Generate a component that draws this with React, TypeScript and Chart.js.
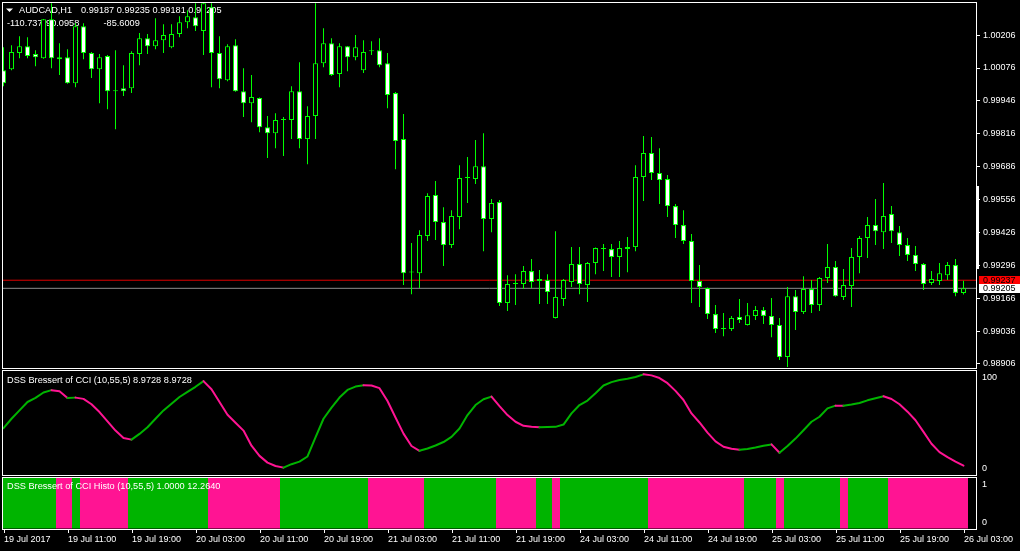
import React, { useEffect, useRef } from 'react';
import { Chart, registerables } from 'chart.js';

Chart.register(...registerables);

// ---------------- data ----------------
const SYMBOL = 'AUDCAD,H1';

const OPEN = [
  1.00067, 1.00071, 1.00135, 1.00162, 1.00131, 1.00115, 1.00269, 1.00111, 1.00119, 1.00016,
  1.00241, 1.00135, 1.00071, 1.00123, 0.99984, 0.99996, 0.99996, 1.00131, 1.00194, 1.00162,
  1.00186, 1.00158, 1.0021, 1.00257, 1.00277, 1.00222, 1.00316, 1.00135, 1.00028, 1.00166,
  0.99984, 0.99937, 0.99957, 0.99842, 0.99818, 0.9987, 0.9987, 0.99984, 0.99795, 0.99886,
  1.00095, 1.00174, 1.00052, 1.00162, 1.00119, 1.00067, 1.00142, 1.00146, 1.00095, 0.99977,
  0.99795, 0.99269, 0.99265, 0.99412, 0.99574, 0.99467, 0.99376, 0.99487, 0.99641, 0.99637,
  0.99688, 0.99479, 0.99546, 0.99147, 0.99222, 0.99222, 0.99273, 0.99242, 0.99238, 0.99088,
  0.99163, 0.9923, 0.99301, 0.99218, 0.99305, 0.9936, 0.9936, 0.99329, 0.9936, 0.99368,
  0.99645, 0.9974, 0.99661, 0.99637, 0.9953, 0.99455, 0.99392, 0.99234, 0.99206, 0.99103,
  0.99044, 0.99044, 0.99092, 0.9906, 0.99096, 0.99119, 0.99096, 0.9906, 0.98933, 0.99174,
  0.99111, 0.99202, 0.99139, 0.99246, 0.99289, 0.99171, 0.99214, 0.99329, 0.99404, 0.99455,
  0.99427, 0.99499, 0.99427, 0.99376, 0.99337, 0.99301, 0.99226, 0.99234, 0.99257, 0.99297,
  0.99187,
];

const HIGH = [
  1.00158, 1.00166, 1.00202, 1.00198, 1.00146, 1.0027, 1.00332, 1.00174, 1.0015, 1.00253,
  1.00253, 1.00139, 1.00131, 1.00127, 1.00146, 1.00087, 1.00142, 1.00214, 1.0021, 1.00273,
  1.00249, 1.00249, 1.00281, 1.00304, 1.00332, 1.00336, 1.00332, 1.00202, 1.0017, 1.0019,
  1.00075, 1.00048, 0.99959, 0.99886, 0.99897, 0.99882, 1.00004, 1.00099, 0.99925, 1.00332,
  1.00233, 1.00194, 1.00174, 1.00163, 1.00206, 1.00186, 1.00182, 1.00194, 1.00135, 0.99981,
  0.99894, 0.99384, 0.99435, 0.99581, 0.99629, 0.99526, 0.99514, 0.99692, 0.99724, 0.99791,
  0.99818, 0.99558, 0.99554, 0.99257, 0.99261, 0.99293, 0.99321, 0.99277, 0.99261, 0.99431,
  0.99242, 0.99368, 0.99368, 0.99309, 0.99366, 0.9938, 0.9938, 0.99392, 0.99408, 0.99692,
  0.99807, 0.99803, 0.99759, 0.99653, 0.99538, 0.99514, 0.9942, 0.99297, 0.99208, 0.99139,
  0.99107, 0.99096, 0.99163, 0.99147, 0.99135, 0.99131, 0.99167, 0.99088, 0.9921, 0.99198,
  0.99253, 0.99238, 0.9925, 0.9938, 0.99313, 0.99281, 0.99364, 0.99412, 0.99487, 0.99558,
  0.99621, 0.9953, 0.99451, 0.99404, 0.99372, 0.99305, 0.99273, 0.99305, 0.99309, 0.99321,
  0.99235,
];

const LOW = [
  1.00004, 1.00067, 1.00115, 1.00115, 1.00083, 1.00113, 1.00075, 1.00048, 1.00014, 1.0,
  1.00111, 1.00036, 0.99937, 0.99913, 0.99834, 0.99965, 0.99977, 1.00087, 1.00131, 1.0015,
  1.00135, 1.00154, 1.00198, 1.00233, 1.00222, 1.00127, 1.0, 0.99996, 1.00024, 0.99982,
  0.99882, 0.99862, 0.99822, 0.9972, 0.99759, 0.99728, 0.99795, 0.99759, 0.99696, 0.99795,
  1.00079, 1.00044, 1.0, 1.00063, 1.00107, 1.00056, 1.00127, 1.00079, 0.99917, 0.99676,
  0.99218, 0.99182, 0.99206, 0.99392, 0.99396, 0.99293, 0.99364, 0.99439, 0.99542, 0.99617,
  0.99352, 0.99427, 0.99135, 0.99115, 0.99139, 0.99202, 0.99206, 0.99143, 0.99143, 0.99086,
  0.99135, 0.9921, 0.99182, 0.99151, 0.99261, 0.99273, 0.9925, 0.9925, 0.99269, 0.99352,
  0.9955, 0.99633, 0.99538, 0.99487, 0.99404, 0.9938, 0.99147, 0.99131, 0.99084, 0.99028,
  0.99016, 0.99036, 0.99068, 0.99058, 0.9908, 0.99064, 0.99012, 0.98922, 0.98894, 0.9904,
  0.99103, 0.99107, 0.99115, 0.99226, 0.99172, 0.99159, 0.99131, 0.99265, 0.99325, 0.99376,
  0.9936, 0.99384, 0.99333, 0.99313, 0.99273, 0.99198, 0.99218, 0.99218, 0.99238, 0.99174,
  0.99181,
];

const CLOSE = [
  1.00016, 1.00139, 1.00162, 1.00123, 1.00119, 1.00269, 1.00115, 1.00119, 1.00016, 1.00241,
  1.00135, 1.00071, 1.00119, 0.99984, 0.99985, 0.99984, 1.00135, 1.00194, 1.00162, 1.00186,
  1.00206, 1.0021, 1.00257, 1.00281, 1.00241, 1.00332, 1.00135, 1.00032, 1.00162, 0.99984,
  0.99937, 0.99961, 0.99842, 0.99818, 0.9987, 0.99871, 0.99984, 0.99795, 0.99886, 1.00095,
  1.00174, 1.00048, 1.00162, 1.00119, 1.00158, 1.00139, 1.00143, 1.00087, 0.99969, 0.99787,
  0.99265, 0.99268, 0.99416, 0.9957, 0.99467, 0.99376, 0.99491, 0.99641, 0.99642, 0.99688,
  0.99479, 0.99542, 0.99147, 0.99222, 0.99226, 0.99273, 0.9923, 0.99234, 0.9919, 0.99171,
  0.99238, 0.99301, 0.99222, 0.99305, 0.99364, 0.99361, 0.99329, 0.99364, 0.99368, 0.99645,
  0.9974, 0.99661, 0.99633, 0.9953, 0.99455, 0.99392, 0.99234, 0.9921, 0.99103, 0.99044,
  0.99045, 0.99088, 0.9908, 0.99099, 0.99119, 0.99096, 0.9906, 0.98933, 0.99174, 0.99111,
  0.99202, 0.99139, 0.99246, 0.99289, 0.99174, 0.99218, 0.99329, 0.99404, 0.99455, 0.99431,
  0.99491, 0.99431, 0.99376, 0.99337, 0.99301, 0.99222, 0.99242, 0.99265, 0.99297, 0.99187,
  0.99205,
];

const DSS = [
  45.0, 54.1, 62.1, 70.2, 74.1, 79.3, 81.6, 80.5, 74.0, 74.4,
  73.2, 68.0, 60.5, 51.5, 42.7, 35.6, 34.0, 39.5, 45.9, 54.1,
  62.1, 68.6, 75.0, 79.9, 84.8, 90.3, 82.5, 70.2, 58.0, 50.2,
  42.7, 28.2, 18.4, 11.9, 8.7, 7.1, 10.4, 12.9, 17.8, 36.2,
  54.1, 64.8, 74.5, 81.8, 85.0, 86.3, 86.0, 83.5, 71.2, 55.3,
  39.8, 27.9, 23.3, 25.5, 28.4, 31.7, 36.6, 44.7, 57.6, 67.3,
  72.8, 75.4, 66.3, 57.6, 51.2, 47.3, 46.3, 46.0, 46.1, 46.3,
  48.5, 59.2, 67.3, 71.6, 78.6, 86.1, 89.3, 91.3, 92.5, 94.2,
  96.8, 95.8, 93.2, 88.3, 80.9, 72.1, 59.2, 50.5, 40.8, 32.3,
  27.2, 25.2, 24.3, 25.0, 26.5, 28.2, 29.4, 21.4, 27.9, 35.0,
  43.0, 51.2, 56.0, 64.1, 66.7, 66.6, 67.7, 69.2, 71.8, 73.8,
  75.7, 73.1, 68.0, 60.9, 52.7, 41.5, 30.1, 22.0, 17.2, 12.9,
  8.9728,
];

// 1 = rising (green), 0 = falling (pink)
const HISTO_UP = [
  1, 1, 1, 1, 1, 1, 1, 0, 0, 1,
  0, 0, 0, 0, 0, 0, 1, 1, 1, 1,
  1, 1, 1, 1, 1, 1, 0, 0, 0, 0,
  0, 0, 0, 0, 0, 1, 1, 1, 1, 1,
  1, 1, 1, 1, 1, 1, 0, 0, 0, 0,
  0, 0, 0, 1, 1, 1, 1, 1, 1, 1,
  1, 1, 0, 0, 0, 0, 0, 1, 1, 0,
  1, 1, 1, 1, 1, 1, 1, 1, 1, 1,
  1, 0, 0, 0, 0, 0, 0, 0, 0, 0,
  0, 0, 0, 1, 1, 1, 1, 0, 1, 1,
  1, 1, 1, 1, 1, 0, 1, 1, 1, 1,
  1, 0, 0, 0, 0, 0, 0, 0, 0, 0,
  0,
];

const TIME_LABELS = [
  '19 Jul 2017', '19 Jul 11:00', '19 Jul 19:00', '20 Jul 03:00', '20 Jul 11:00', '20 Jul 19:00',
  '21 Jul 03:00', '21 Jul 11:00', '21 Jul 19:00', '24 Jul 03:00', '24 Jul 11:00', '24 Jul 19:00',
  '25 Jul 03:00', '25 Jul 11:00', '25 Jul 19:00', '26 Jul 03:00',
];
const LABEL_STEP = 8;

const PRICE_TICKS = [0.98906, 0.99036, 0.99166, 0.99296, 0.99426, 0.99556, 0.99686, 0.99816, 0.99946, 1.00076, 1.00206];
const PRICE_MIN = 0.9889;
const PRICE_MAX = 1.00333;
const ASK = 0.99237;
const BID = 0.99205;
const SIDE_MARKER = [0.9928, 0.9961];

const HEADER_VALUES = ['-110.737', '-90.0958', '-85.6009'];
const DSS_TITLE = 'DSS Bressert of CCI (10,55,5) 8.9728 8.9728';
const HISTO_TITLE = 'DSS Bressert of CCI Histo (10,55,5) 1.0000 12.2640';
const DSS_LEVELS = [0, 100];
const HISTO_LEVELS = [0, 1];

// ---------------- styles ----------------
const FONT_FAMILY = "'Liberation Sans', Arial, sans-serif";
const CANDLE_GREEN = '#00FF00';
const UP_COLOR = '#00B400';
const DOWN_COLOR = '#FF1493';
const X_MIN = -0.0625;
const X_MAX = 121.5625;
const X_MIN_H = -0.125;
const X_MAX_H = 121.5;

Chart.defaults.font.family = FONT_FAMILY;
Chart.defaults.font.size = 9;

const framePlugin = {
  id: 'frame',
  afterDraw(chart: any) {
    const { ctx, chartArea: a } = chart;
    ctx.save();
    ctx.strokeStyle = '#FFFFFF';
    ctx.lineWidth = 1;
    ctx.strokeRect(a.left - 0.5, a.top - 0.5, a.right - a.left + 1, a.bottom - a.top + 1);
    ctx.restore();
  },
};

function textPlugin(id: string, hook: string, items: { text: string; x: number; y: number }[], triangle = false) {
  return {
    id,
    [hook](chart: any) {
      const ctx = chart.ctx;
      ctx.save();
      ctx.fillStyle = '#FFFFFF';
      if (triangle) {
        ctx.beginPath();
        ctx.moveTo(6, 8.5);
        ctx.lineTo(13, 8.5);
        ctx.lineTo(9.5, 12);
        ctx.closePath();
        ctx.fill();
      }
      ctx.font = `9.2px ${FONT_FAMILY}`;
      ctx.textBaseline = 'middle';
      ctx.textAlign = 'left';
      items.forEach((t) => ctx.fillText(t.text, t.x, t.y));
      ctx.restore();
    },
  };
}

const priceTagPlugin = {
  id: 'priceTags',
  afterDraw(chart: any) {
    const { ctx, chartArea: a } = chart;
    const y = chart.scales.y;
    ctx.save();
    const t = Math.round(y.getPixelForValue(SIDE_MARKER[1]));
    const b = Math.round(y.getPixelForValue(SIDE_MARKER[0]));
    ctx.fillStyle = '#FFFFFF';
    ctx.fillRect(a.right + 1, t, 2, b - t);
    const tag = (value: number, bg: string) => {
      const py = Math.round(y.getPixelForValue(value));
      ctx.fillStyle = bg;
      ctx.fillRect(a.right + 3, py - 4, chart.width - a.right - 3, 9);
      ctx.fillStyle = '#000000';
      ctx.font = `9px ${FONT_FAMILY}`;
      ctx.textBaseline = 'middle';
      ctx.fillText(value.toFixed(5), a.right + 7, py + 0.5);
    };
    tag(ASK, '#FF0000');
    tag(BID, '#FFFFFF');
    ctx.restore();
  },
};

const fixRightAxis = (s: any) => {
  s.width = 44;
  s.paddingTop = 0;
  s.paddingBottom = 0;
  s.paddingLeft = 0;
  s.paddingRight = 0;
};

const baseOptions = {
  animation: false as const,
  responsive: false,
  maintainAspectRatio: false,
  devicePixelRatio: 1,
  events: [] as any[],
  plugins: { legend: { display: false }, tooltip: { enabled: false } },
};

function mainConfig(): any {
  const idx = OPEN.map((_, i) => i);
  return {
    type: 'bar',
    data: {
      datasets: [
        {
          type: 'line',
          data: [{ x: X_MIN, y: ASK }, { x: X_MAX, y: ASK }],
          borderColor: '#E00000',
          borderWidth: 1,
          pointRadius: 0,
          order: 3,
        },
        {
          type: 'line',
          data: [{ x: X_MIN, y: BID }, { x: X_MAX, y: BID }],
          borderColor: '#8C8C8C',
          borderWidth: 1,
          pointRadius: 0,
          order: 3,
        },
        {
          data: idx.map((i) => ({ x: i, y: [LOW[i], HIGH[i]] })),
          backgroundColor: CANDLE_GREEN,
          borderWidth: 0,
          barThickness: 1,
          grouped: false,
          inflateAmount: 0,
          order: 2,
        },
        {
          data: idx.map((i) => ({ x: i, y: [OPEN[i], CLOSE[i]] })),
          backgroundColor: (c: any) => (CLOSE[c.dataIndex] < OPEN[c.dataIndex] ? '#FFFFFF' : '#000000'),
          borderColor: CANDLE_GREEN,
          borderWidth: 1,
          borderSkipped: false,
          barThickness: 5,
          minBarLength: 1,
          grouped: false,
          inflateAmount: 0,
          order: 1,
        },
      ],
    },
    options: {
      ...baseOptions,
      layout: { padding: { left: 3, top: 3, right: 0, bottom: 1 } },
      scales: {
        x: { type: 'linear', min: X_MIN, max: X_MAX, offset: false, grid: { offset: false }, display: false },
        y: {
          type: 'linear',
          position: 'right',
          min: PRICE_MIN,
          max: PRICE_MAX,
          afterBuildTicks: (s: any) => {
            s.ticks = PRICE_TICKS.map((v) => ({ value: v }));
          },
          afterFit: fixRightAxis,
          ticks: {
            color: '#FFFFFF',
            padding: 3,
            autoSkip: false,
            font: { size: 9 },
            callback: (v: any) => Number(v).toFixed(5),
          },
          grid: { drawOnChartArea: false, drawTicks: true, tickLength: 4, color: '#FFFFFF' },
          border: { display: false },
        },
      },
    },
    plugins: [
      textPlugin(
        'mainHeader',
        'beforeDatasetsDraw',
        [
          { text: SYMBOL, x: 19, y: 10.5 },
          {
            text: [OPEN[120], HIGH[120], LOW[120], CLOSE[120]].map((v) => v.toFixed(5)).join(' '),
            x: 81,
            y: 10.5,
          },
          { text: HEADER_VALUES[0], x: 7, y: 23.5 },
          { text: HEADER_VALUES[1], x: 43, y: 23.5 },
          { text: HEADER_VALUES[2], x: 103.5, y: 23.5 },
        ],
        true
      ),
      priceTagPlugin,
      framePlugin,
    ],
  };
}

function dssConfig(): any {
  return {
    type: 'line',
    data: {
      datasets: [
        {
          data: DSS.map((v, i) => ({ x: i, y: v })),
          borderColor: UP_COLOR,
          borderWidth: 2,
          pointRadius: 0,
          tension: 0,
          borderCapStyle: 'round',
          borderJoinStyle: 'round',
          segment: {
            borderColor: (c: any) => (c.p1.parsed.y >= c.p0.parsed.y ? UP_COLOR : DOWN_COLOR),
          },
        },
      ],
    },
    options: {
      ...baseOptions,
      layout: { padding: { left: 3, top: 2, right: 0, bottom: 2 } },
      scales: {
        x: { type: 'linear', min: X_MIN, max: X_MAX, offset: false, display: false },
        y: {
          type: 'linear',
          position: 'right',
          min: 0,
          max: 100,
          afterBuildTicks: (s: any) => {
            s.ticks = DSS_LEVELS.map((v) => ({ value: v }));
          },
          afterFit: fixRightAxis,
          ticks: {
            color: '#FFFFFF',
            padding: 6,
            autoSkip: false,
            font: { size: 9, lineHeight: '13px' },
            callback: (v: any) => (v === 100 ? ['', '100'] : ['0', '']),
          },
          grid: { drawOnChartArea: false, drawTicks: false },
          border: { display: false },
        },
      },
    },
    plugins: [textPlugin('dssHeader', 'afterDatasetsDraw', [{ text: DSS_TITLE, x: 7, y: 11 }]), framePlugin],
  };
}

function histoConfig(): any {
  return {
    type: 'bar',
    data: {
      datasets: [
        {
          data: HISTO_UP.map((_, i) => ({ x: i, y: [0, 1] })),
          backgroundColor: (c: any) => (HISTO_UP[c.dataIndex] ? UP_COLOR : DOWN_COLOR),
          borderWidth: 0,
          barThickness: 8,
          inflateAmount: 0,
        },
      ],
    },
    options: {
      ...baseOptions,
      layout: { padding: { left: 3, top: 2, right: 0, bottom: 0 } },
      scales: {
        x: {
          type: 'linear',
          position: 'bottom',
          min: X_MIN_H,
          max: X_MAX_H,
          offset: false,
          afterBuildTicks: (s: any) => {
            s.ticks = TIME_LABELS.map((_, k) => ({ value: k * LABEL_STEP }));
          },
          afterFit: (s: any) => {
            s.height = 22;
            s.paddingLeft = 0;
            s.paddingRight = 0;
          },
          ticks: {
            color: '#FFFFFF',
            align: 'start',
            padding: 1,
            autoSkip: false,
            maxRotation: 0,
            minRotation: 0,
            font: { size: 9 },
            callback: (v: any) => TIME_LABELS[Math.round(Number(v) / LABEL_STEP)] ?? '',
          },
          grid: { offset: false, drawOnChartArea: false, drawTicks: true, tickLength: 4, color: '#FFFFFF' },
          border: { display: false },
        },
        y: {
          type: 'linear',
          position: 'right',
          min: 0,
          max: 1,
          afterBuildTicks: (s: any) => {
            s.ticks = HISTO_LEVELS.map((v) => ({ value: v }));
          },
          afterFit: fixRightAxis,
          ticks: {
            color: '#FFFFFF',
            padding: 6,
            autoSkip: false,
            font: { size: 9, lineHeight: '13px' },
            callback: (v: any) => (v === 1 ? ['', '1'] : ['0', '']),
          },
          grid: { drawOnChartArea: false, drawTicks: false },
          border: { display: false },
        },
      },
    },
    plugins: [textPlugin('histoHeader', 'afterDatasetsDraw', [{ text: HISTO_TITLE, x: 7, y: 10 }]), framePlugin],
  };
}

export default function App() {
  const mainRef = useRef<HTMLCanvasElement>(null);
  const dssRef = useRef<HTMLCanvasElement>(null);
  const histRef = useRef<HTMLCanvasElement>(null);

  useEffect(() => {
    const charts = [
      new Chart(mainRef.current as HTMLCanvasElement, mainConfig()),
      new Chart(dssRef.current as HTMLCanvasElement, dssConfig()),
      new Chart(histRef.current as HTMLCanvasElement, histoConfig()),
    ];
    return () => charts.forEach((c) => c.destroy());
  }, []);

  return (
    <div
      style={{
        position: 'fixed',
        left: 0,
        top: 0,
        width: 1020,
        height: 551,
        background: '#000000',
        overflow: 'hidden',
      }}
    >
      <canvas ref={mainRef} width={1020} height={369} style={{ position: 'absolute', left: 0, top: 0 }} />
      <canvas ref={dssRef} width={1020} height={108} style={{ position: 'absolute', left: 0, top: 369 }} />
      <canvas ref={histRef} width={1020} height={75} style={{ position: 'absolute', left: 0, top: 476 }} />
    </div>
  );
}
